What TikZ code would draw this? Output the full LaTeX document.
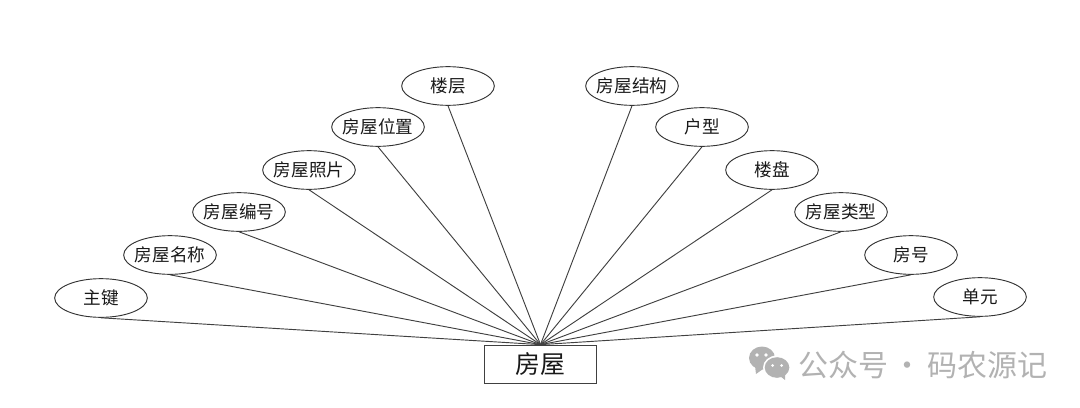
\documentclass[tikz,border=0pt]{standalone}
\usepackage{fontspec}
\usetikzlibrary{shapes.geometric}
\setmainfont{Noto Sans CJK SC}
\newcommand{\lbl}[1]{\makebox[0pt]{#1}}
\begin{document}
\begin{tikzpicture}[x=0.75pt,y=-0.75pt,
  attr/.style={draw=black!80,line width=0.7pt,ellipse,minimum width=69.5pt,minimum height=29pt,inner sep=0pt,font=\fontsize{13.2}{15}\selectfont,text=black!90},
  entity/.style={draw=black!75,line width=0.8pt,rectangle,minimum width=83.5pt,minimum height=29pt,inner sep=0pt,font=\fontsize{18.7}{20}\selectfont,text=black!90},
  link/.style={draw=black!75,line width=0.7pt},
  wmtext/.style={text=black!30,font=\fontsize{22.5}{24}\selectfont,inner sep=0pt}]
\useasboundingbox (0,0) rectangle (1080,407);
\node[entity] (house) at (540.5,364.5) {房屋};
\node[attr] (a1) at (101,298) {\lbl{主键}};
\node[attr] (a2) at (170,255) {\lbl{房屋名称}};
\node[attr] (a3) at (239,212) {\lbl{房屋编号}};
\node[attr] (a4) at (309,170) {\lbl{房屋照片}};
\node[attr] (a5) at (378,127) {\lbl{房屋位置}};
\node[attr] (a6) at (448,86) {\lbl{楼层}};
\node[attr] (a7) at (632,86) {\lbl{房屋结构}};
\node[attr] (a8) at (702,127) {\lbl{户型}};
\node[attr] (a9) at (772,170) {\lbl{楼盘}};
\node[attr] (a10) at (841,212) {\lbl{房屋类型}};
\node[attr] (a11) at (911,255) {\lbl{房号}};
\node[attr] (a12) at (980,297) {\lbl{单元}};
\foreach \n in {a1,a2,a3,a4,a5,a6,a7,a8,a9,a10,a11,a12}
  \draw[link] (\n.south) -- (house.north);
\fill[black!30] (762,358) ellipse (13 and 11.5);
\fill[black!30] (755,366) -- (756,374) -- (763,369) -- cycle;
\fill[white] (777,367.5) ellipse (14 and 12);
\fill[black!30] (777,367.5) ellipse (12.3 and 10.3);
\fill[black!30] (780,376) -- (785,380) -- (785,374) -- cycle;
\fill[white] (757,355) circle (1.8) (766,355) circle (1.8) (772.5,365.5) circle (1.5) (781.5,365.5) circle (1.5);
\node[wmtext,anchor=west] (wm) at (798,365) {公众号\hspace{-2pt} · \hspace{-1pt}码农源记};
\end{tikzpicture}
\end{document}
